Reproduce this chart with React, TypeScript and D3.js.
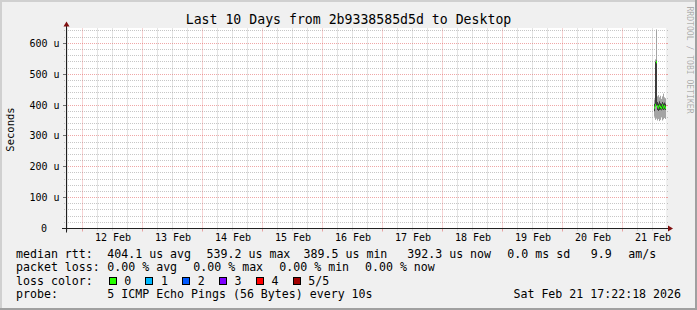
import React from "react";
import * as d3 from "d3";

// ---------- data ----------
const chartTitle = "Last 10 Days from 2b9338585d5d to Desktop";
const yAxisTitle = "Seconds";
const watermark = "RRDTOOL / TOBI OETIKER";

const rangeStart = new Date(2026, 1, 11, 17, 22, 18);
const rangeEnd = new Date(2026, 1, 21, 17, 22, 18);

const yMaxValue = 648; // microseconds shown at top of canvas
const yMajorTicks = [0, 100, 200, 300, 400, 500, 600];
const yMajorLabels = ["0", "100 u", "200 u", "300 u", "400 u", "500 u", "600 u"];
const yMinorStep = 20;

const dayNumbers = [12, 13, 14, 15, 16, 17, 18, 19, 20, 21];
const dayLabels = ["12 Feb", "13 Feb", "14 Feb", "15 Feb", "16 Feb", "17 Feb", "18 Feb", "19 Feb", "20 Feb", "21 Feb"];

// samples on 21 Feb (24-minute consolidated steps), values in microseconds
const sampleTimes = ["12:36", "13:00", "13:24", "13:48", "14:12", "14:36", "15:00", "15:24", "15:48", "16:12", "16:36", "17:00"];
const pingMin = [362, 352, 356, 350, 355, 348, 352, 360, 350, 354, 358, 355];
const ping2 = [380, 396, 398, 384, 381, 384, 385, 383, 386, 384, 386, 384];
const medianRtt = [392, 400, 539, 396, 392, 398, 394, 390, 399, 392, 396, 391];
const ping4 = [404, 540, 544, 410, 405, 412, 406, 404, 410, 405, 408, 404];
const pingMax = [418, 548, 645, 428, 432, 425, 430, 420, 428, 437, 425, 422];
const sampleStepMinutes = 24;

const legendLine1 = [
  ["median rtt:", 16],
  ["404.1 us avg", 107.3],
  ["539.2 us max", 206.6],
  ["389.5 us min", 303.6],
  ["392.3 us now", 407.3],
  ["0.0 ms sd", 507.3],
  ["9.9", 590.7],
  ["am/s", 628.3],
];
const legendLine2 = [
  ["packet loss:", 16],
  ["0.00 % avg", 107.3],
  ["0.00 % max", 193.3],
  ["0.00 % min", 279.3],
  ["0.00 % now", 365],
];
const lossLabel = "loss color:";
const lossNames = ["0", "1", "2", "3", "4", "5/5"];
const lossColors = ["#26ff00", "#00b8ff", "#0059ff", "#7e00ff", "#ff0000", "#a10000"];
const probeLabel = "probe:";
const probeText = "5 ICMP Echo Pings (56 Bytes) every 10s";
const stampText = "Sat Feb 21 17:22:18 2026";

// ---------- layout ----------
const W = 697;
const H = 310;
const X0 = 66;
const X1 = 666;
const Y0 = 228.5;
const Y1 = 28.5;
const MONO = "'DejaVu Sans Mono', monospace";
const minorGrid = "rgba(144,144,144,0.5)";
const majorGrid = "rgba(224,80,80,0.5)";

export default function App() {
  const x = d3.scaleTime().domain([rangeStart, rangeEnd]).range([X0, X1]);
  const y = d3.scaleLinear().domain([0, yMaxValue]).range([Y0, Y1]);
  const px = (v: number) => Math.floor(v) + 0.5;

  const minorTimes = d3.timeHour.every(6)!.range(rangeStart, rangeEnd).filter((d) => d.getHours() !== 0);
  const majorTimes = d3.timeDay.range(rangeStart, rangeEnd);
  const minorVals = d3.range(yMinorStep, yMaxValue, yMinorStep).filter((v) => v % 100 !== 0);

  const parseT = (s: string) => {
    const [h, m] = s.split(":").map(Number);
    return new Date(2026, 1, 21, h, m, 0);
  };
  const cols = sampleTimes.map((s, i) => {
    const t = parseT(s);
    const t2 = new Date(t.getTime() + sampleStepMinutes * 60000);
    const xa = Math.round(x(t));
    const xb = Math.round(x(t2));
    return { xa, w: xb - xa, i };
  });

  const lineY = [257.5, 271, 284.5, 298];

  return (
    <svg width={W} height={H} style={{ display: "block", position: "absolute", left: 0, top: 0 }}>
      {/* background + 3D frame */}
      <rect x={0} y={0} width={W} height={H} fill="#f0f0f0" />
      <rect x={0} y={0} width={W} height={2} fill="#d0d0d0" />
      <rect x={0} y={0} width={2} height={H} fill="#d0d0d0" />
      <rect x={0} y={H - 2} width={W} height={2} fill="#a0a0a0" />
      <rect x={W - 2} y={0} width={2} height={H} fill="#a0a0a0" />

      {/* canvas */}
      <rect x={X0} y={Y1 - 0.5} width={X1 - X0} height={Y0 - Y1 + 0.5} fill="#ffffff" />

      {/* minor grid */}
      {minorVals.map((v) => (
        <g key={"hm" + v}>
          <line x1={X0} x2={X1} y1={px(y(v))} y2={px(y(v))} stroke={minorGrid} strokeDasharray="1 1" />
          <line x1={X0 - 2} x2={X0 - 1} y1={px(y(v))} y2={px(y(v))} stroke={minorGrid} />
          <line x1={X1 + 1} x2={X1 + 2} y1={px(y(v))} y2={px(y(v))} stroke={minorGrid} />
        </g>
      ))}
      {minorTimes.map((t) => (
        <g key={"vm" + t.getTime()}>
          <line x1={px(x(t))} x2={px(x(t))} y1={Y1} y2={Y0} stroke={minorGrid} strokeDasharray="1 1" />
          <line x1={px(x(t))} x2={px(x(t))} y1={Y0 + 1} y2={Y0 + 2} stroke={minorGrid} />
        </g>
      ))}
      {/* major grid */}
      {yMajorTicks.filter((v) => v > 0).map((v) => (
        <g key={"hM" + v}>
          <line x1={X0} x2={X1} y1={px(y(v))} y2={px(y(v))} stroke={majorGrid} strokeDasharray="1 1" />
          <line x1={X0 - 3} x2={X0} y1={px(y(v))} y2={px(y(v))} stroke="#707070" />
          <line x1={X1} x2={X1 + 2} y1={px(y(v))} y2={px(y(v))} stroke={majorGrid} />
        </g>
      ))}
      {majorTimes.map((t) => (
        <g key={"vM" + t.getTime()}>
          <line x1={px(x(t))} x2={px(x(t))} y1={Y1} y2={Y0} stroke={majorGrid} strokeDasharray="1 1" />
          <line x1={px(x(t))} x2={px(x(t))} y1={Y0} y2={Y0 + 3} stroke={majorGrid} />
        </g>
      ))}

      {/* smoke */}
      {cols.map((c) => (
        <rect key={"o" + c.i} x={c.xa} width={c.w} y={y(pingMax[c.i])} height={y(pingMin[c.i]) - y(pingMax[c.i])} fill="#a4a4a4" />
      ))}
      {cols.map((c) => (
        <rect key={"n" + c.i} x={c.xa} width={c.w} y={y(ping4[c.i])} height={y(ping2[c.i]) - y(ping4[c.i])} fill="#3c3c3c" />
      ))}
      {cols.map((c) => (
        <rect key={"m" + c.i} x={c.xa} width={c.w} y={y(medianRtt[c.i]) - 1.2} height={2.4} fill={lossColors[0]} />
      ))}

      {/* axes */}
      <line x1={X0 - 4} x2={X1 + 4} y1={Y0} y2={Y0} stroke="#202020" />
      <line x1={X0 + 0.5} x2={X0 + 0.5} y1={Y0 + 4} y2={Y1 - 4} stroke="#202020" />
      <polygon points={`${X1 + 2},${Y0 - 3} ${X1 + 2},${Y0 + 3} ${X1 + 7},${Y0}`} fill="#801010" />
      <polygon points={`${X0 - 2.5},${Y1 - 2} ${X0 + 3.5},${Y1 - 2} ${X0 + 0.5},${Y1 - 7}`} fill="#801010" />

      {/* y labels */}
      {yMajorTicks.map((v, i) => (
        <text
          key={"yl" + v}
          x={v === 0 ? 47 : 59.5}
          y={px(y(v)) + 3.7}
          textAnchor="end"
          fontFamily={MONO}
          fontSize={10}
          fill="#000"
        >
          {yMajorLabels[i]}
        </text>
      ))}
      {/* x labels at noon */}
      {dayNumbers.map((d, i) => (
        <text
          key={"xl" + d}
          x={x(new Date(2026, 1, d, 12, 0, 0)) + 0.5}
          y={241}
          textAnchor="middle"
          fontFamily={MONO}
          fontSize={10}
          fill="#000"
        >
          {dayLabels[i]}
        </text>
      ))}

      {/* titles */}
      <text x={348.5} y={24} textAnchor="middle" fontFamily={MONO} fontSize={13.2} fill="#000">
        {chartTitle}
      </text>
      <text
        transform="translate(14,129.5) rotate(-90)"
        textAnchor="middle"
        fontFamily={MONO}
        fontSize={10.5}
        fill="#000"
      >
        {yAxisTitle}
      </text>
      <text
        transform="translate(686.5,60) rotate(90)"
        textAnchor="middle"
        fontFamily={MONO}
        fontSize={8.1}
        fill="rgba(0,0,0,0.3)"
      >
        {watermark}
      </text>

      {/* legend */}
      {legendLine1.map(([s, lx], i) => (
        <text key={"l1" + i} x={lx as number} y={lineY[0]} fontFamily={MONO} fontSize={11.6} fill="#000" style={{ whiteSpace: "pre" }}>
          {s}
        </text>
      ))}
      {legendLine2.map(([s, lx], i) => (
        <text key={"l2" + i} x={lx as number} y={lineY[1]} fontFamily={MONO} fontSize={11.6} fill="#000" style={{ whiteSpace: "pre" }}>
          {s}
        </text>
      ))}
      <text x={16} y={lineY[2]} fontFamily={MONO} fontSize={11.6} fill="#000">
        {lossLabel}
      </text>
      {lossNames.map((n, i) => {
        const bx = 108.5 + i * 36.8;
        return (
          <g key={"lc" + i}>
            <rect x={Math.round(bx) + 0.5} y={277.5} width={7} height={7} fill={lossColors[i]} stroke="#000" />
            <text x={bx + 15.7} y={lineY[2]} fontFamily={MONO} fontSize={11.6} fill="#000">
              {n}
            </text>
          </g>
        );
      })}
      <text x={16} y={lineY[3]} fontFamily={MONO} fontSize={11.6} fill="#000">
        {probeLabel}
      </text>
      <text x={107.3} y={lineY[3]} fontFamily={MONO} fontSize={11.6} fill="#000">
        {probeText}
      </text>
      <text x={681} y={lineY[3]} textAnchor="end" fontFamily={MONO} fontSize={11.6} fill="#000">
        {stampText}
      </text>
    </svg>
  );
}
